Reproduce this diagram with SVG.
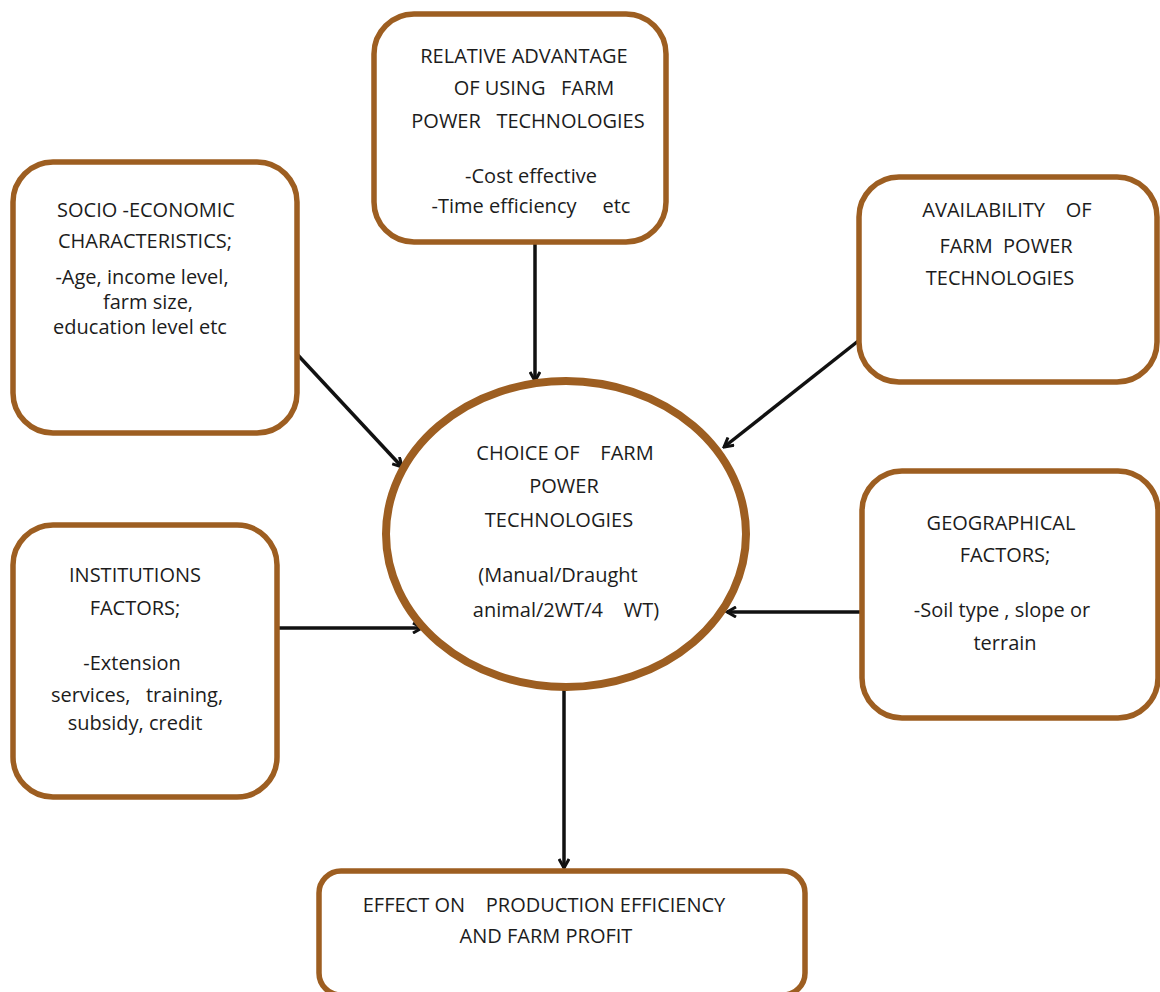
<svg xmlns="http://www.w3.org/2000/svg" width="1160" height="992" viewBox="0 0 1160 992">
<style>
.box{fill:#fff;stroke:#9d5e21;stroke-width:5.5}
.ell{fill:#fff;stroke:#9d5e21;stroke-width:8}
text{font-family:"Open Sans","Liberation Sans",sans-serif;font-size:20px;fill:#1c1c1c;text-anchor:middle;white-space:pre}
.c{stroke:#111;stroke-width:3.5;fill:none;marker-end:url(#ah)}
</style>
<defs>
<marker id="ah" viewBox="0 0 12 12" refX="10" refY="6" markerWidth="12" markerHeight="12" markerUnits="userSpaceOnUse" orient="auto">
<polyline points="1,1 10,6 1,11" fill="none" stroke="#111" stroke-width="3" stroke-linejoin="miter"/>
</marker>
</defs>
<rect width="1160" height="992" fill="#fff"/>
<g id="connectors">
<line class="c" x1="535" y1="244" x2="535" y2="381"/>
<line class="c" x1="295" y1="352" x2="402" y2="467"/>
<line class="c" x1="862" y1="338" x2="724" y2="447"/>
<line class="c" x1="277" y1="628" x2="422" y2="628"/>
<line class="c" x1="862" y1="612" x2="727" y2="612"/>
<line class="c" x1="564" y1="688" x2="564" y2="868"/>
</g>
<g id="relative-advantage">
<rect class="box" x="374" y="14" width="292" height="228" rx="40"/>
<text x="524" y="63">RELATIVE ADVANTAGE</text>
<text x="534" y="95">OF USING   FARM</text>
<text x="528" y="128">POWER   TECHNOLOGIES</text>
<text x="531" y="183">-Cost effective</text>
<text x="531" y="213">-Time efficiency     etc</text>
</g>
<g id="socio-economic">
<rect class="box" x="13" y="162" width="284" height="271" rx="40"/>
<text x="146" y="217">SOCIO -ECONOMIC</text>
<text x="145" y="248">CHARACTERISTICS;</text>
<text x="142" y="284">-Age, income level,</text>
<text x="148" y="309">farm size,</text>
<text x="140" y="334">education level etc</text>
</g>
<g id="availability">
<rect class="box" x="859" y="177" width="298" height="205" rx="40"/>
<text x="1007" y="217">AVAILABILITY    OF</text>
<text x="1006" y="253">FARM  POWER</text>
<text x="1000" y="285">TECHNOLOGIES</text>
</g>
<g id="choice">
<ellipse class="ell" cx="566" cy="534" rx="180" ry="153"/>
<text x="565" y="460">CHOICE OF    FARM</text>
<text x="564" y="493">POWER</text>
<text x="559" y="527">TECHNOLOGIES</text>
<text x="558" y="582">(Manual/Draught</text>
<text x="566" y="617">animal/2WT/4    WT)</text>
</g>
<g id="institutions">
<rect class="box" x="13" y="525" width="264" height="272" rx="40"/>
<text x="135" y="582">INSTITUTIONS</text>
<text x="135" y="615">FACTORS;</text>
<text x="132" y="670">-Extension</text>
<text x="137" y="702">services,   training,</text>
<text x="135" y="730">subsidy, credit</text>
</g>
<g id="geographical">
<rect class="box" x="862" y="471" width="296" height="247" rx="40"/>
<text x="1001" y="530">GEOGRAPHICAL</text>
<text x="1005" y="562">FACTORS;</text>
<text x="1002" y="617">-Soil type , slope or</text>
<text x="1005" y="650">terrain</text>
</g>
<g id="effect">
<rect class="box" x="319" y="871" width="486" height="124" rx="22"/>
<text x="544" y="912">EFFECT ON    PRODUCTION EFFICIENCY</text>
<text x="546" y="943">AND FARM PROFIT</text>
</g>
</svg>
